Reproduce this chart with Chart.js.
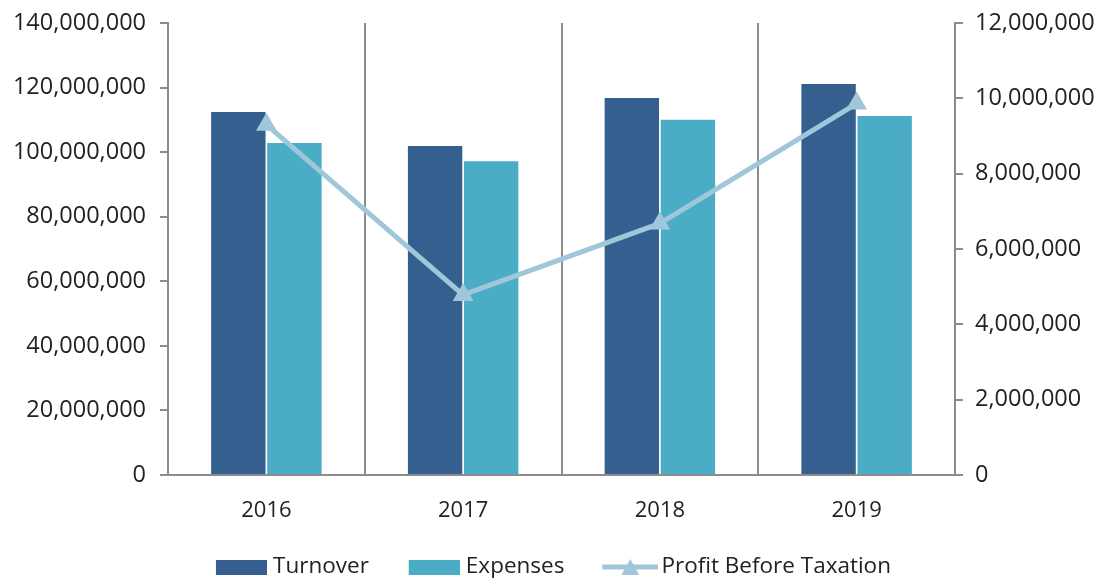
<!DOCTYPE html>
<html>
<head>
<meta charset="utf-8">
<style>
  html, body { margin: 0; padding: 0; background: #fff; }
  #wrap { width: 1107px; height: 581px; }
</style>
<script src="https://cdn.jsdelivr.net/npm/chart.js@4/dist/chart.umd.min.js"></script>
</head>
<body>
<div id="wrap"><canvas id="myChart" width="1107" height="581"></canvas></div>
<script>
const years = ['2016', '2017', '2018', '2019'];
const turnover = [112400000, 101900000, 116800000, 121100000];
const expenses = [102800000, 97200000, 110000000, 111200000];
const profit = [9300000, 4780000, 6680000, 9860000];

const dark = '#355F8F';
const teal = '#4BACC6';
const light = '#A0C7D9';
const axisGray = '#8C8C8C';
const textColor = '#222';

// legend swatches, with a transparent margin on the left for item spacing
function boxIcon(color) {
    const c = document.createElement('canvas');
    c.width = 76; c.height = 15;
    const g = c.getContext('2d');
    g.fillStyle = color;
    g.fillRect(25, 0, 51, 15);
    return c;
}
function lineIcon(color) {
    const c = document.createElement('canvas');
    c.width = 82; c.height = 22;
    const g = c.getContext('2d');
    g.strokeStyle = color;
    g.lineWidth = 5;
    g.beginPath(); g.moveTo(26, 11); g.lineTo(82, 11); g.stroke();
    g.fillStyle = color;
    g.beginPath(); g.moveTo(54, 3); g.lineTo(63, 19); g.lineTo(45, 19); g.closePath(); g.fill();
    return c;
}
const icons = [boxIcon(dark), boxIcon(teal), lineIcon(light)];

// nudge the legend a little to the left
const legendShift = {
    id: 'legendShift',
    afterLayout(chart) {
        chart.legend.left -= 20;
    }
};

Chart.defaults.font.family = '"Open Sans", sans-serif';
Chart.defaults.font.size = 22;
Chart.defaults.color = textColor;

const ctx = document.getElementById('myChart').getContext('2d');
const myChart = new Chart(ctx, {
    type: 'bar',
    data: {
        labels: years,
        datasets: [
            {
                label: 'Turnover',
                data: turnover,
                backgroundColor: dark,
                yAxisID: 'y',
                order: 2,
                barPercentage: 0.97,
                categoryPercentage: 0.57
            },
            {
                label: 'Expenses',
                data: expenses,
                backgroundColor: teal,
                yAxisID: 'y',
                order: 2,
                barPercentage: 0.97,
                categoryPercentage: 0.57
            },
            {
                type: 'line',
                label: 'Profit Before Taxation',
                data: profit,
                borderColor: light,
                backgroundColor: light,
                borderWidth: 5,
                pointStyle: 'triangle',
                pointRadius: 12,
                pointHoverRadius: 12,
                pointBorderWidth: 0,
                tension: 0,
                yAxisID: 'y1',
                order: 1
            }
        ]
    },
    options: {
        responsive: false,
        animation: false,
        layout: { padding: { top: 0, left: 0, right: 0, bottom: -7.25 } },
        scales: {
            x: {
                grid: { offset: true, color: axisGray, lineWidth: 2, drawTicks: false },
                border: { color: axisGray, width: 2 },
                ticks: { padding: 23, font: { size: 22 } },
                afterFit: s => { s.height = 60.75; }
            },
            y: {
                position: 'left',
                min: 0,
                max: 140000000,
                ticks: {
                    stepSize: 20000000,
                    padding: 14,
                    font: { size: 23.5 },
                    callback: v => v.toLocaleString('en-US')
                },
                grid: { drawOnChartArea: false, color: axisGray, lineWidth: 2, tickLength: 8 },
                border: { color: axisGray, width: 2 },
                afterFit: s => { s.width = 168; s.paddingTop = 23; }
            },
            y1: {
                position: 'right',
                min: 0,
                max: 12000000,
                ticks: {
                    stepSize: 2000000,
                    padding: 12,
                    font: { size: 23.5 },
                    callback: v => v.toLocaleString('en-US')
                },
                grid: { drawOnChartArea: false, color: axisGray, lineWidth: 2, tickLength: 8 },
                border: { color: axisGray, width: 2 },
                afterFit: s => { s.width = 152; s.paddingTop = 23; }
            }
        },
        plugins: {
            legend: {
                display: true,
                position: 'bottom',
                labels: {
                    usePointStyle: true,
                    pointStyleWidth: 65.75,
                    padding: 20,
                    font: { size: 22.5 },
                    generateLabels: chart => chart.data.datasets.map((ds, i) => ({
                        text: ds.label,
                        pointStyle: icons[i],
                        fillStyle: ds.backgroundColor,
                        strokeStyle: ds.backgroundColor,
                        lineWidth: 0,
                        hidden: false,
                        datasetIndex: i,
                        fontColor: textColor
                    }))
                }
            },
            tooltip: { enabled: false }
        }
    },
    plugins: [legendShift]
});
</script>
</body>
</html>
